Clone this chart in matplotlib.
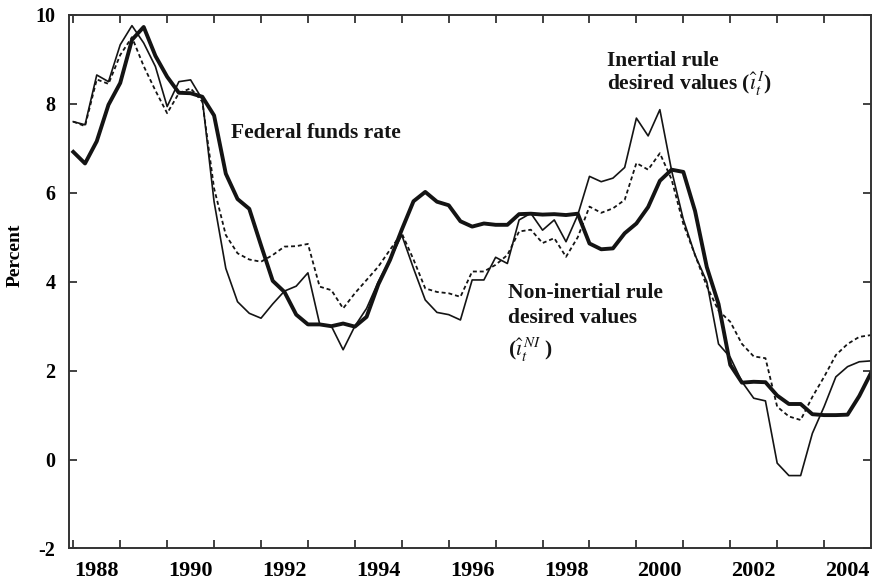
import numpy as np
import matplotlib
matplotlib.use('Agg')
import matplotlib.pyplot as plt

plt.rcParams['font.family'] = ['Liberation Serif', 'DejaVu Serif']
plt.rcParams['mathtext.fontset'] = 'stix'

# Quarterly values, 1987Q4 .. 2004Q4 (percent)
fed_funds = [6.92,
             6.66, 7.16, 7.98, 8.47,
             9.44, 9.73, 9.08, 8.61,
             8.25, 8.24, 8.16, 7.74,
             6.43, 5.86, 5.64, 4.82,
             4.02, 3.77, 3.26, 3.04,
             3.04, 3.00, 3.06, 2.99,
             3.21, 3.94, 4.49, 5.17,
             5.81, 6.02, 5.80, 5.72,
             5.36, 5.24, 5.31, 5.28,
             5.28, 5.52, 5.53, 5.51,
             5.52, 5.50, 5.53, 4.86,
             4.73, 4.75, 5.09, 5.31,
             5.68, 6.27, 6.52, 6.47,
             5.59, 4.33, 3.50, 2.13,
             1.73, 1.75, 1.74, 1.44,
             1.25, 1.25, 1.02, 1.00,
             1.00, 1.01, 1.43, 1.95]

non_inertial = [7.60,
                7.53, 8.65, 8.50, 9.33,
                9.76, 9.37, 8.84, 7.94,
                8.50, 8.54, 8.10, 5.80,
                4.30, 3.55, 3.29, 3.18,
                3.50, 3.79, 3.90, 4.20,
                3.05, 3.00, 2.47, 3.00,
                3.40, 4.00, 4.50, 5.05,
                4.30, 3.59, 3.31, 3.26,
                3.14, 4.04, 4.04, 4.55,
                4.41, 5.39, 5.54, 5.16,
                5.39, 4.90, 5.50, 6.37,
                6.25, 6.33, 6.57, 7.68,
                7.28, 7.87, 6.50, 5.40,
                4.60, 4.00, 2.60, 2.30,
                1.75, 1.38, 1.32, -0.08,
                -0.36, -0.36, 0.59, 1.19,
                1.86, 2.09, 2.20, 2.22]

inertial = [7.60,
            7.50, 8.55, 8.45, 9.10,
            9.50, 8.85, 8.30, 7.79,
            8.24, 8.35, 8.05, 6.10,
            5.05, 4.64, 4.50, 4.45,
            4.60, 4.79, 4.80, 4.85,
            3.89, 3.81, 3.40, 3.74,
            4.04, 4.34, 4.72, 5.09,
            4.50, 3.85, 3.77, 3.74,
            3.66, 4.23, 4.23, 4.38,
            4.60, 5.13, 5.17, 4.87,
            4.98, 4.56, 5.00, 5.69,
            5.55, 5.65, 5.84, 6.67,
            6.52, 6.89, 6.30, 5.30,
            4.60, 3.90, 3.35, 3.10,
            2.60, 2.32, 2.28, 1.19,
            0.97, 0.89, 1.41, 1.86,
            2.35, 2.60, 2.76, 2.80]

years = list(range(1988, 2005))
year_labels = [str(y) for y in range(1988, 2005, 2)]
y_ticks = [-2, 0, 2, 4, 6, 8, 10]

# each quarter is plotted at its end date
quarters = 1988 + np.arange(len(fed_funds)) * 0.25

fig = plt.figure(figsize=(8.74, 5.87), dpi=100)
ax = fig.add_axes([0.0793, 0.0656, 0.9173, 0.9089])

ink = '#141414'
ax.plot(quarters, non_inertial, color=ink, lw=1.2)
ax.plot(quarters, inertial, color=ink, lw=1.3, linestyle=(0, (2.2, 1.6)))
ax.plot(quarters, fed_funds, color=ink, lw=2.8)

ax.set_xlim(1987.915, 2005.0)
ax.set_ylim(-2, 10)

ax.set_xticks(years)
ax.set_xticklabels([])
ax.set_xticks([int(s) + 0.5 for s in year_labels], minor=True)
ax.set_xticklabels(year_labels, minor=True)
ax.tick_params(axis='x', which='major', direction='in', length=6, width=1.3,
               top=True, bottom=True, color='#333333')
ax.tick_params(axis='x', which='minor', length=0, pad=9, labelsize=16)

ax.set_yticks(y_ticks)
ax.set_yticklabels([str(v) for v in y_ticks])
ax.tick_params(axis='y', direction='in', length=6, width=1.3, left=True,
               right=True, color='#333333', pad=10, labelsize=14.5)

for lab in ax.get_xticklabels(minor=True) + ax.get_yticklabels():
    lab.set_fontweight('bold')

for sp in ax.spines.values():
    sp.set_linewidth(1.4)
    sp.set_color('#333333')

fig.text(15 / 874, 1 - 255 / 587, 'Percent', rotation=90, ha='center',
         va='center', fontsize=14, fontweight='bold')

tkw = dict(fontsize=15.5, fontweight='bold', va='baseline', ha='left', color=ink)
ax.text(1991.37, 7.23, 'Federal funds rate', **tkw)
ax.text(1999.38, 8.85, 'Inertial rule', **tkw)
ax.text(1999.38, 8.31, r'desired values ($\hat{\imath}_{t}^{\,I}$)', **tkw)
ax.text(1997.26, 3.63, 'Non-inertial rule', **tkw)
ax.text(1997.26, 3.07, 'desired values', **tkw)
ax.text(1997.26, 2.33, r'($\hat{\imath}_{t}^{\,NI}$ )', **tkw)

fig.savefig('out.png', dpi=100, facecolor='white')
